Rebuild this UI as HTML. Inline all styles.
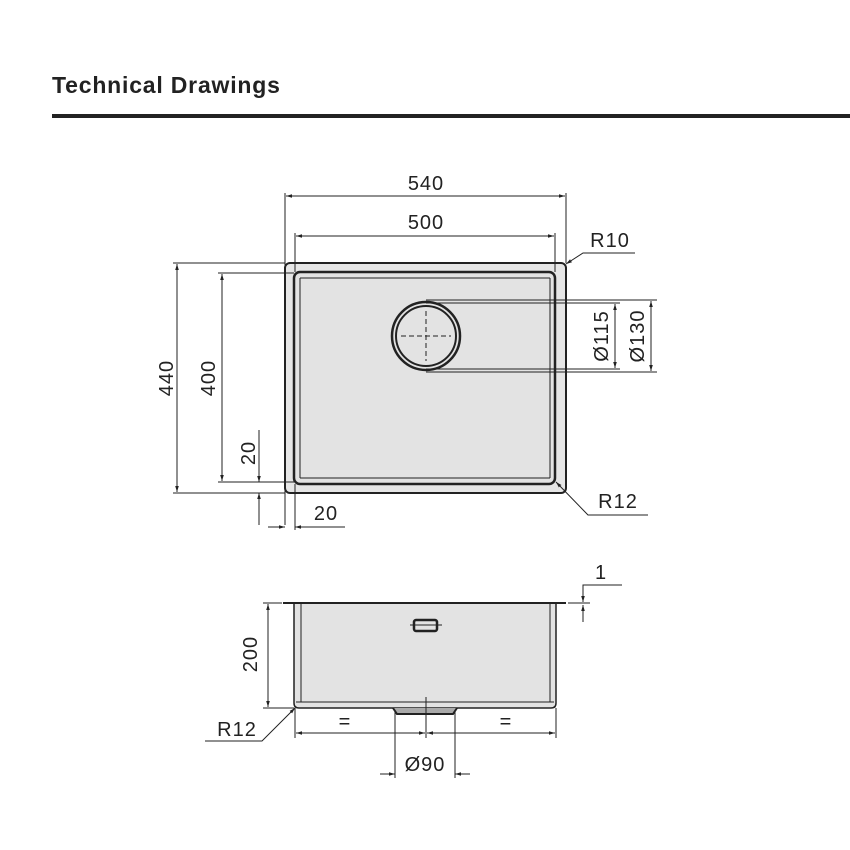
<!DOCTYPE html>
<html><head><style>
body{margin:0;background:#fff;}
svg{display:block;font-family:"Liberation Sans",sans-serif;}
</style></head><body>
<svg width="850" height="850" viewBox="0 0 850 850" xmlns="http://www.w3.org/2000/svg">
<defs>
<marker id="a" viewBox="0 0 10 10" refX="10" refY="5" markerWidth="6" markerHeight="6" orient="auto-start-reverse"><path d="M0,2 L10,5 L0,8 z" fill="#222"/></marker>
</defs>
<text x="52" y="93" font-size="23" font-weight="bold" fill="#222" letter-spacing="0.8">Technical Drawings</text>
<rect x="52" y="114" width="798" height="4" fill="#222"/>

<g stroke="#222" fill="none" stroke-width="1">
<rect x="285" y="263" width="281" height="230" rx="5" fill="#e6e6e6" stroke-width="2"/>
<rect x="294" y="272" width="261" height="212" rx="6" stroke-width="2.5" fill="#e3e3e3"/>
<line x1="300" y1="278" x2="550" y2="278"/>
<line x1="300" y1="478" x2="550" y2="478"/>
<line x1="300" y1="278" x2="300" y2="478"/>
<line x1="550" y1="278" x2="550" y2="478"/>
<circle cx="426" cy="336" r="34" stroke-width="2.5"/>
<circle cx="426" cy="336" r="30" stroke-width="2"/>
<line x1="401" y1="336" x2="451" y2="336" stroke-dasharray="5,3"/>
<line x1="426" y1="311" x2="426" y2="361" stroke-dasharray="5,3"/>
<line x1="285" y1="193" x2="285" y2="525"/><line x1="566" y1="193" x2="566" y2="263"/>
<line x1="286" y1="196" x2="565" y2="196" marker-start="url(#a)" marker-end="url(#a)"/>
<line x1="295" y1="233" x2="295" y2="272"/><line x1="555" y1="233" x2="555" y2="272"/>
<line x1="296" y1="236" x2="554" y2="236" marker-start="url(#a)" marker-end="url(#a)"/>
<line x1="173" y1="263" x2="285" y2="263"/><line x1="173" y1="493" x2="285" y2="493"/>
<line x1="177" y1="264" x2="177" y2="492" marker-start="url(#a)" marker-end="url(#a)"/>
<line x1="218" y1="273" x2="294" y2="273"/><line x1="218" y1="482" x2="294" y2="482"/>
<line x1="222" y1="274" x2="222" y2="481" marker-start="url(#a)" marker-end="url(#a)"/>
<line x1="259" y1="430" x2="259" y2="482" marker-end="url(#a)"/>
<line x1="259" y1="525" x2="259" y2="493" marker-end="url(#a)"/>
<line x1="268" y1="527" x2="285" y2="527" marker-end="url(#a)"/>
<line x1="345" y1="527" x2="295" y2="527" marker-end="url(#a)"/>
<line x1="295" y1="484" x2="295" y2="530"/>
<line x1="426" y1="303" x2="620" y2="303"/><line x1="426" y1="369" x2="620" y2="369"/>
<line x1="426" y1="300" x2="657" y2="300"/><line x1="426" y1="372" x2="657" y2="372"/>
<line x1="615" y1="304" x2="615" y2="368" marker-start="url(#a)" marker-end="url(#a)"/>
<line x1="651" y1="301" x2="651" y2="371" marker-start="url(#a)" marker-end="url(#a)"/>
<polyline points="635,253 583,253 566,264" marker-end="url(#a)"/>
<polyline points="648,515 588,515 556,482" marker-end="url(#a)"/>

<rect x="294" y="603" width="262" height="105" fill="#e3e3e3" stroke="none"/>
<line x1="283" y1="603" x2="566" y2="603" stroke-width="2"/>
<path d="M294,603 V703 Q294,708 299,708 H551 Q556,708 556,703 V603" stroke-width="1.5"/>
<line x1="301" y1="604" x2="301" y2="702"/>
<line x1="550" y1="604" x2="550" y2="702"/>
<line x1="296" y1="702" x2="554" y2="702"/>
<rect x="414" y="620" width="23" height="11" rx="2" stroke-width="2.5"/>
<line x1="410" y1="625" x2="442" y2="625"/>
<path d="M393,708 L397,714 H453 L457,708" stroke-width="2" fill="#aaa"/>
<line x1="263" y1="603" x2="282" y2="603"/><line x1="263" y1="708" x2="294" y2="708"/>
<line x1="268" y1="604" x2="268" y2="707" marker-start="url(#a)" marker-end="url(#a)"/>
<polyline points="205,741 262,741 295,708" marker-end="url(#a)"/>
<line x1="295" y1="708" x2="295" y2="738"/><line x1="556" y1="708" x2="556" y2="738"/>
<line x1="426" y1="697" x2="426" y2="738"/>
<line x1="296" y1="733" x2="425" y2="733" marker-start="url(#a)" marker-end="url(#a)"/>
<line x1="427" y1="733" x2="555" y2="733" marker-start="url(#a)" marker-end="url(#a)"/>
<line x1="395" y1="712" x2="395" y2="778"/><line x1="455" y1="712" x2="455" y2="778"/>
<line x1="380" y1="774" x2="395" y2="774" marker-end="url(#a)"/>
<line x1="470" y1="774" x2="455" y2="774" marker-end="url(#a)"/>
<polyline points="622,585 583,585 583,602" marker-end="url(#a)"/>
<line x1="583" y1="622" x2="583" y2="605" marker-end="url(#a)"/>
<line x1="568" y1="603" x2="590" y2="603"/>
</g>

<g fill="#222" font-size="20" text-anchor="middle" letter-spacing="1">
<text x="426" y="190">540</text>
<text x="426" y="229">500</text>
<text x="610" y="247">R10</text>
<text x="618" y="508">R12</text>
<text x="326" y="520">20</text>
<text transform="translate(173,378) rotate(-90)">440</text>
<text transform="translate(215,378) rotate(-90)">400</text>
<text transform="translate(255,453) rotate(-90)">20</text>
<text transform="translate(608,336) rotate(-90)">Ø115</text>
<text transform="translate(644,336) rotate(-90)">Ø130</text>
<text transform="translate(257,654) rotate(-90)">200</text>
<text x="237" y="736">R12</text>
<text x="345" y="728">=</text>
<text x="506" y="728">=</text>
<text x="425" y="771">Ø90</text>
<text x="601" y="579">1</text>
</g>
</svg>
</body></html>
